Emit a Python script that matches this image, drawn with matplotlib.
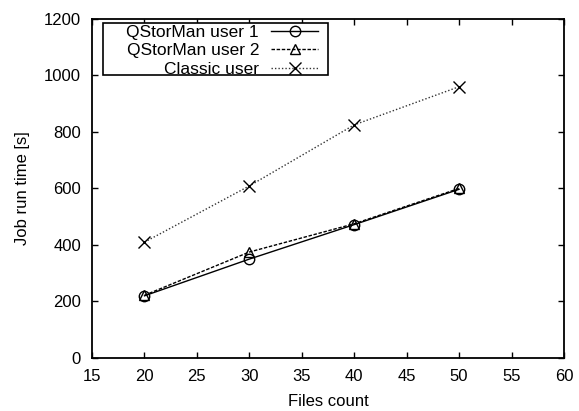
import matplotlib
matplotlib.use("Agg")
import matplotlib.pyplot as plt
import matplotlib.patches as mpatches

plt.rcParams['font.family'] = ['Liberation Sans', 'DejaVu Sans']

# datos
files_count = [20, 30, 40, 50]
qstorman_user1 = [220, 350, 472, 597]
qstorman_user2 = [222, 375, 475, 600]
classic_user = [410, 609, 825, 960]

x_ticks = [15, 20, 25, 30, 35, 40, 45, 50, 55, 60]
y_ticks = [0, 200, 400, 600, 800, 1000, 1200]

fig = plt.figure(figsize=(5.79, 4.11), dpi=100)
ax = fig.add_axes([0.159, 0.129, 0.815, 0.825])

ax.plot(files_count, qstorman_user1, color='black', linewidth=1.0, linestyle='-',
        marker='o', markersize=7.5, markerfacecolor='none', markeredgewidth=1.0,
        label='QStorMan user 1')
ax.plot(files_count, qstorman_user2, color='black', linewidth=1.0, linestyle=(0, (2.5, 1.2)),
        marker='^', markersize=7, markerfacecolor='none', markeredgewidth=1.0,
        label='QStorMan user 2')
ax.plot(files_count, classic_user, color='#333333', linewidth=1.0, linestyle=(0, (1, 1.5)),
        marker='x', markersize=8, markeredgecolor='black', markeredgewidth=1.0,
        label='Classic user')

ax.set_xlim(15, 60)
ax.set_ylim(0, 1200)
ax.set_xticks(x_ticks)
ax.set_yticks(y_ticks)
ax.tick_params(direction='in', top=True, right=True, length=4, width=1, labelsize=12, pad=8)
for s in ax.spines.values():
    s.set_linewidth(1.3)

ax.set_xlabel('Files count', fontsize=12, labelpad=7)
ax.set_ylabel('Job run time [s]', fontsize=12, labelpad=10)

# caja de la leyenda estilo gnuplot
caja = mpatches.Rectangle((0.023, 0.835), 0.477, 0.153, transform=ax.transAxes,
                          facecolor='white', edgecolor='black', linewidth=1.2, zorder=4)
ax.add_patch(caja)
leg = ax.legend(loc='upper right', bbox_to_anchor=(0.479, 0.983), markerfirst=False,
                fontsize=12.5, handlelength=2.7, handletextpad=0.7,
                labelspacing=0.2, borderpad=0.0, borderaxespad=0.0, frameon=False)
leg.set_zorder(5)

plt.savefig('out.png', dpi=100)
plt.close()
